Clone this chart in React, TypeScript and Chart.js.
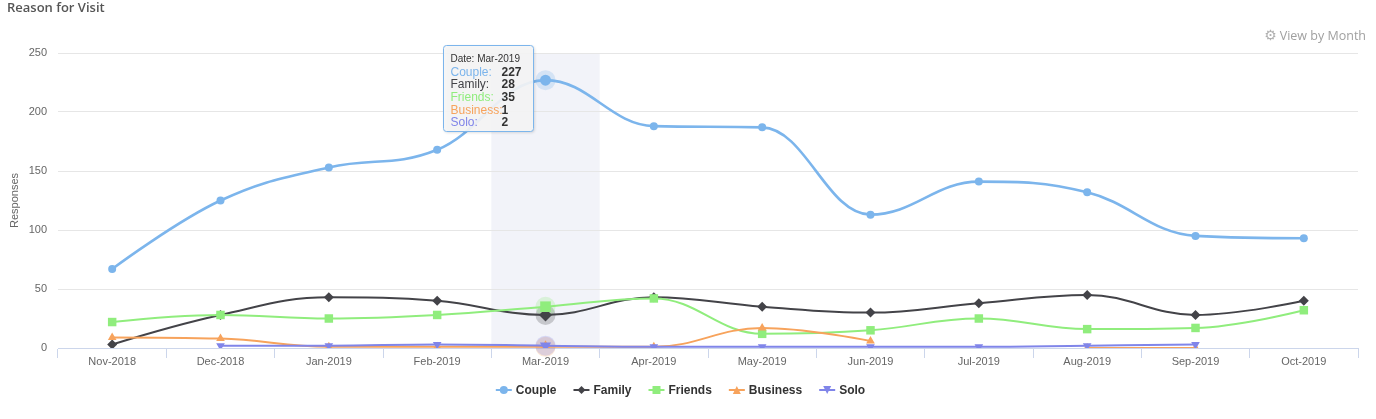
import React, { useEffect, useRef } from "react";
import { Chart, registerables } from "chart.js";

Chart.register(...registerables);

const months = ["Nov-2018", "Dec-2018", "Jan-2019", "Feb-2019", "Mar-2019", "Apr-2019", "May-2019", "Jun-2019", "Jul-2019", "Aug-2019", "Sep-2019", "Oct-2019"];
const couple = [67, 125, 153, 168, 227, 188, 187, 113, 141, 132, 95, 93];
const family = [3, 28, 43, 40, 28, 43, 35, 30, 38, 45, 28, 40];
const friends = [22, 28, 25, 28, 35, 42, 12, 15, 25, 16, 17, 32];
const business = [9, 8, 1, 1, 1, 1, 17, 6, null, 0, 0, null];
const solo = [null, 2, 2, 3, 2, 1, 1, 1, 1, 2, 3, null];
const seriesNames = ["Couple", "Family", "Friends", "Business", "Solo"];
const seriesColors = ["#7cb5ec", "#434348", "#90ed7d", "#f7a35c", "#8085e9"];
const seriesMarkers = ["circle", "diamond", "square", "triangle", "triangle-down"];
const yMin = 0;
const yMax = 250;
const yStep = 50;
const hoverIndex = 4;

const FONT = "'Liberation Sans', Arial, sans-serif";

function drawMarker(ctx: CanvasRenderingContext2D, kind: string, x: number, y: number, r: number, color: string) {
  ctx.save();
  ctx.fillStyle = color;
  ctx.beginPath();
  if (kind === "circle") {
    ctx.arc(x, y, r, 0, Math.PI * 2);
  } else if (kind === "diamond") {
    ctx.moveTo(x, y - r);
    ctx.lineTo(x + r, y);
    ctx.lineTo(x, y + r);
    ctx.lineTo(x - r, y);
    ctx.closePath();
  } else if (kind === "square") {
    ctx.rect(x - r, y - r, 2 * r, 2 * r);
  } else if (kind === "triangle") {
    ctx.moveTo(x, y - r);
    ctx.lineTo(x + r, y + r);
    ctx.lineTo(x - r, y + r);
    ctx.closePath();
  } else {
    ctx.moveTo(x - r, y - r);
    ctx.lineTo(x + r, y - r);
    ctx.lineTo(x, y + r);
    ctx.closePath();
  }
  ctx.fill();
  ctx.restore();
}

const chartPointStyle: Record<string, string> = {
  circle: "circle",
  diamond: "rectRot",
  square: "rect",
  triangle: "triangle",
  "triangle-down": "triangle",
};
const chartPointRadius: Record<string, number> = {
  circle: 4,
  diamond: 5,
  square: 6,
  triangle: 5,
  "triangle-down": 5,
};

// Highcharts-style spline control points computed from the library's pixel positions
function applySpline(points: any[]) {
  const sm = 1.5, denom = 2.5;
  const valid = (p: any) => p && !p.skip;
  for (let i = 0; i < points.length; i++) {
    const p = points[i];
    if (!valid(p)) continue;
    p.cp1x = p.x; p.cp1y = p.y; p.cp2x = p.x; p.cp2y = p.y;
    const a = points[i - 1], b = points[i + 1];
    if (valid(a) && valid(b)) {
      const lx = (sm * p.x + a.x) / denom;
      let ly = (sm * p.y + a.y) / denom;
      const rx = (sm * p.x + b.x) / denom;
      let ry = (sm * p.y + b.y) / denom;
      let corr = 0;
      if (rx !== lx) corr = ((ry - ly) * (rx - p.x)) / (rx - lx) + p.y - ry;
      ly += corr; ry += corr;
      if (ly > a.y && ly > p.y) { ly = Math.max(a.y, p.y); ry = 2 * p.y - ly; }
      else if (ly < a.y && ly < p.y) { ly = Math.min(a.y, p.y); ry = 2 * p.y - ly; }
      if (ry > b.y && ry > p.y) { ry = Math.max(b.y, p.y); ly = 2 * p.y - ry; }
      else if (ry < b.y && ry < p.y) { ry = Math.min(b.y, p.y); ly = 2 * p.y - ry; }
      p.cp1x = lx; p.cp1y = ly; p.cp2x = rx; p.cp2y = ry;
    }
  }
}

const decorPlugin = {
  id: "decor",
  beforeDraw(chart: any) {
    const ctx: CanvasRenderingContext2D = chart.ctx;
    const area = chart.chartArea;
    const xs = chart.scales.x;
    const cx = xs.getPixelForValue(hoverIndex);
    const half = (xs.getPixelForValue(1) - xs.getPixelForValue(0)) / 2;
    ctx.save();
    ctx.fillStyle = "rgb(242,243,249)";
    ctx.fillRect(cx - half, area.top, half * 2, area.bottom - area.top);
    ctx.restore();
  },
  beforeDatasetDraw(chart: any, args: any) {
    const meta = chart.getDatasetMeta(args.index);
    const line = meta.dataset;
    if (!line) return;
    line.updateControlPoints(chart.chartArea, "x");
    applySpline(meta.data);
    line._pointsUpdated = true;
  },
  beforeDatasetsDraw(chart: any) {
    const ctx: CanvasRenderingContext2D = chart.ctx;
    ctx.save();
    chart.data.datasets.forEach((ds: any, i: number) => {
      const v = ds.data[hoverIndex];
      if (v === null || v === undefined) return;
      const pt = chart.getDatasetMeta(i).data[hoverIndex];
      ctx.globalAlpha = 0.25;
      ctx.fillStyle = seriesColors[i];
      ctx.beginPath();
      ctx.arc(pt.x, pt.y, 10, 0, Math.PI * 2);
      ctx.fill();
    });
    ctx.restore();
  },
  afterDraw(chart: any) {
    const ctx: CanvasRenderingContext2D = chart.ctx;
    ctx.save();
    // title
    ctx.fillStyle = "#555";
    ctx.font = "600 13px 'Open Sans', sans-serif";
    ctx.textBaseline = "middle";
    ctx.textAlign = "left";
    ctx.fillText("Reason for Visit", 7, 8);
    // view by month
    ctx.fillStyle = "#a0a0a0";
    ctx.font = "12.5px 'Open Sans', sans-serif";
    ctx.textAlign = "right";
    ctx.fillText("View by Month", 1366, 36.5);
    const tw = ctx.measureText("View by Month").width;
    ctx.font = "14px 'DejaVu Sans', sans-serif";
    ctx.fillStyle = "#b0b0b0";
    ctx.fillText("\u2699", 1366 - tw - 3, 36);

    // legend
    ctx.font = "bold 12px " + FONT;
    ctx.textAlign = "left";
    const widths = seriesNames.map((n) => ctx.measureText(n).width);
    const sym = 16, symPad = 4, dist = 17;
    let total = 0;
    widths.forEach((w, i) => {
      total += sym + symPad + w + (i < widths.length - 1 ? dist : 0);
    });
    let lx = chart.width / 2 - 7.5 - total / 2;
    const ly = 390;
    seriesNames.forEach((n, i) => {
      ctx.strokeStyle = seriesColors[i];
      ctx.lineWidth = 2;
      ctx.beginPath();
      ctx.moveTo(lx, ly);
      ctx.lineTo(lx + sym, ly);
      ctx.stroke();
      drawMarker(ctx, seriesMarkers[i], lx + sym / 2, ly, 4, seriesColors[i]);
      ctx.fillStyle = "#333";
      ctx.fillText(n, lx + sym + symPad, ly + 0.5);
      lx += sym + symPad + widths[i] + dist;
    });

    // tooltip
    const p = chart.getDatasetMeta(0).data[hoverIndex];
    const w = 90, h = 86;
    const bx = Math.round(p.x - 13 - w) + 0.5;
    const by = Math.round(p.y - 35) + 0.5;
    ctx.shadowColor = "rgba(0,0,0,0.18)";
    ctx.shadowBlur = 3;
    ctx.shadowOffsetX = 1;
    ctx.shadowOffsetY = 1;
    ctx.fillStyle = "rgba(247,247,247,0.9)";
    ctx.beginPath();
    if ((ctx as any).roundRect) (ctx as any).roundRect(bx, by, w, h, 3);
    else ctx.rect(bx, by, w, h);
    ctx.fill();
    ctx.shadowColor = "transparent";
    ctx.strokeStyle = seriesColors[0];
    ctx.lineWidth = 1;
    ctx.stroke();
    ctx.textAlign = "left";
    ctx.textBaseline = "middle";
    ctx.fillStyle = "#333";
    ctx.font = "10px " + FONT;
    ctx.fillText("Date: " + months[hoverIndex], bx + 7, by + 14);
    chart.data.datasets.forEach((ds: any, i: number) => {
      const yy = by + 27 + i * 12.6;
      ctx.font = "12px " + FONT;
      ctx.fillStyle = seriesColors[i];
      ctx.fillText(seriesNames[i] + ":", bx + 7, yy);
      ctx.font = "bold 12px " + FONT;
      ctx.fillStyle = "#333";
      const v = ds.data[hoverIndex];
      ctx.fillText(v === null ? "" : String(v), bx + 58, yy);
    });
    ctx.restore();
  },
};

export default function App() {
  const ref = useRef<HTMLCanvasElement | null>(null);
  useEffect(() => {
    document.body.style.margin = "0";
    const allData = [couple, family, friends, business, solo];
    const datasets = seriesNames.map((name, i) => {
      const mk = seriesMarkers[i];
      const baseR = chartPointRadius[mk];
      return {
        label: name,
        data: allData[i],
        borderColor: seriesColors[i],
        backgroundColor: seriesColors[i],
        borderWidth: i === 0 ? 2.6 : 2,
        tension: 0.4,
        spanGaps: false,
        pointStyle: chartPointStyle[mk],
        rotation: mk === "triangle-down" ? 180 : 0,
        pointRadius: (c: any) => (c.dataIndex === hoverIndex ? baseR + 1.5 : baseR),
        pointBackgroundColor: seriesColors[i],
        pointBorderColor: seriesColors[i],
        pointBorderWidth: 0,
        order: 5 - i,
      };
    });
    const chart = new Chart(ref.current as HTMLCanvasElement, {
      type: "line",
      data: { labels: months, datasets: datasets as any },
      options: {
        animation: false,
        responsive: false,
        events: [],
        layout: { padding: { left: 8, right: 18, top: 53, bottom: 41 } },
        plugins: { legend: { display: false }, tooltip: { enabled: false }, title: { display: false } },
        scales: {
          x: {
            offset: true,
            grid: { offset: true, drawOnChartArea: false, color: "#ccd6eb", tickLength: 10 },
            border: { color: "#ccd6eb", width: 1 },
            ticks: { color: "#666", font: { size: 11, family: FONT }, padding: -3, maxRotation: 0, autoSkip: false },
            afterFit: (s: any) => { s.height = 30; },
          },
          y: {
            min: yMin,
            max: yMax,
            ticks: { stepSize: yStep, color: "#666", font: { size: 11, family: FONT }, padding: 11 },
            grid: { color: "#e6e6e6", drawTicks: false },
            border: { display: false },
            title: { display: true, text: "Responses", color: "#666", font: { size: 11, family: FONT }, padding: 0 },
            afterFit: (s: any) => { s.width = 50; },
          },
        },
      },
      plugins: [decorPlugin],
    });
    return () => chart.destroy();
  }, []);
  return (
    <div style={{ width: 1376, height: 419 }}>
      <canvas ref={ref} width={1376} height={419} style={{ display: "block" }} />
    </div>
  );
}
